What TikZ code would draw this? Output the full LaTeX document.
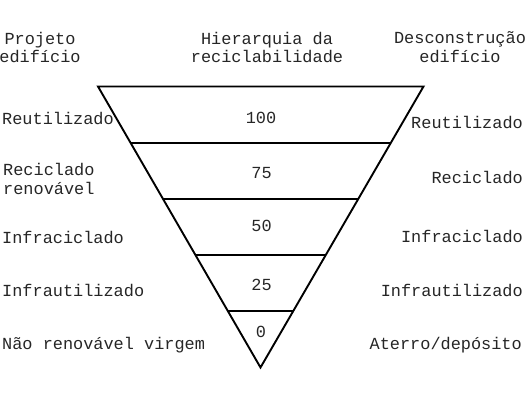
\documentclass[tikz,border=0pt]{standalone}
\usepackage{fontspec}
\setmainfont{Liberation Mono}
\usetikzlibrary{calc}
\begin{document}
\begin{tikzpicture}[x=1pt,y=-1pt,
  lbl/.style={inner sep=0pt, text=black!85, font=\fontsize{16.9}{19}\selectfont},
  lleft/.style={lbl, anchor=base west},
  lright/.style={lbl, anchor=base east},
  lmid/.style={lbl, anchor=base},
  edge/.style={line width=1.9pt, line join=miter}]
\useasboundingbox (0,0) rectangle (528,400);
% triangle
\coordinate (TL) at (98,86.5);
\coordinate (TR) at (423.5,86.5);
\coordinate (AP) at (260.5,367.5);
\draw[edge] (TL) -- (TR) -- (AP) -- cycle;
\foreach \t/\n in {0.2/a,0.4/b,0.6/c,0.8/d}{
  \coordinate (L\n) at ($(TL)!\t!(AP)$);
  \coordinate (R\n) at ($(TR)!\t!(AP)$);
  \draw[edge] (L\n) -- (R\n);
}
% headers
\node[lmid] (h1a) at (40,44) {Projeto};
\node[lmid] (h1b) at (40,62.5) {edifício};
\node[lmid] (h2a) at (267,44) {Hierarquia da};
\node[lmid] (h2b) at (267,62.5) {reciclabilidade};
\node[lmid] (h3a) at (460,43.5) {Desconstrução};
\node[lmid] (h3b) at (460,62.5) {edifício};
% left labels
\node[lleft] (l1) at (2,124) {Reutilizado};
\node[lleft] (l2a) at (3,175) {Reciclado};
\node[lleft] (l2b) at (3,194) {renovável};
\node[lleft] (l3) at (2,243) {Infraciclado};
\node[lleft] (l4) at (2,296.5) {Infrautilizado};
\node[lleft] (l5) at (2,349) {Não renovável virgem};
% right labels
\node[lright] (r1) at (523,128.5) {Reutilizado};
\node[lright] (r2) at (523,183.5) {Reciclado};
\node[lright] (r3) at (523,242.5) {Infraciclado};
\node[lright] (r4) at (523,296.5) {Infrautilizado};
\node[lright] (r5) at (522,349) {Aterro/depósito};
% numbers
\node[lmid] (n1) at (261,123.3) {100};
\node[lmid] (n2) at (261.5,178.3) {75};
\node[lmid] (n3) at (261.5,231.7) {50};
\node[lmid] (n4) at (261.5,290.7) {25};
\node[lmid] (n5) at (261,337.3) {0};
\end{tikzpicture}
\end{document}
